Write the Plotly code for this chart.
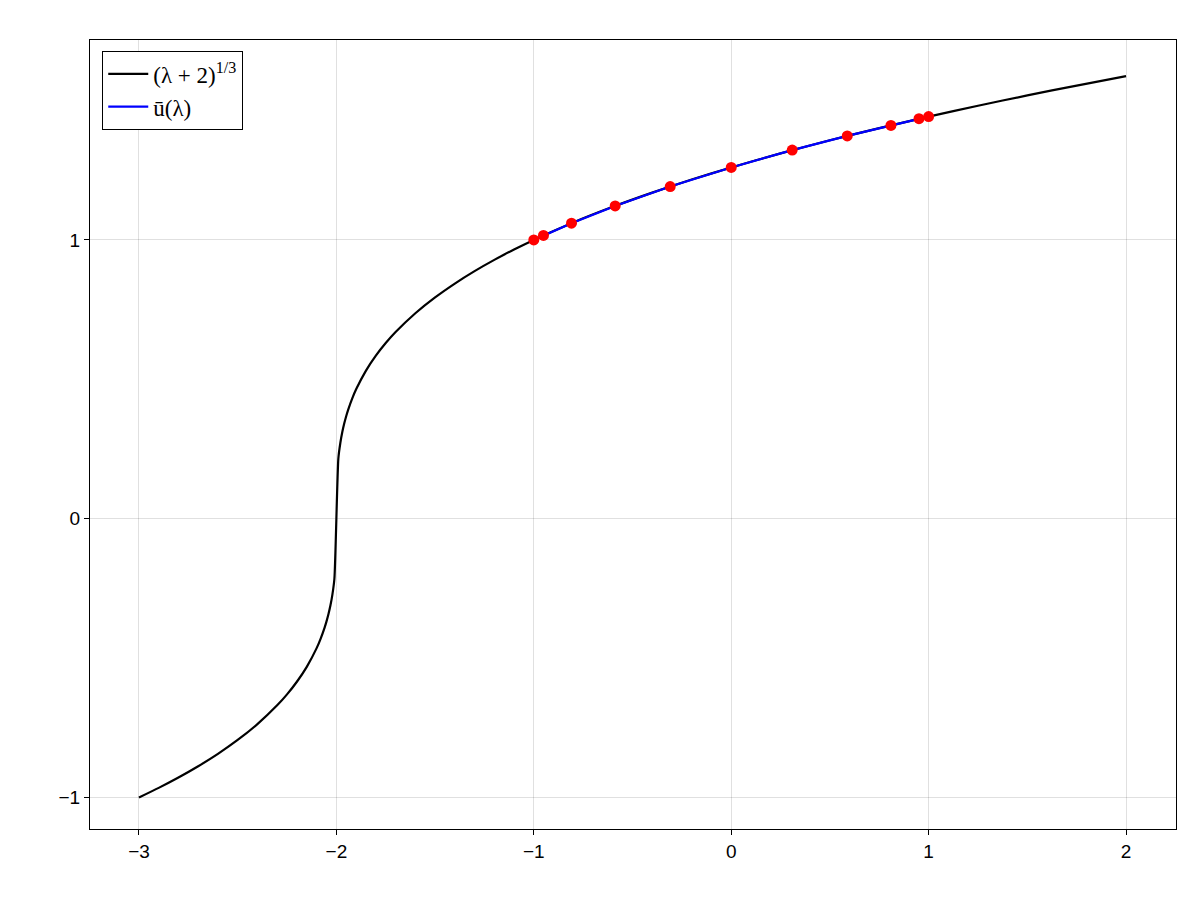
import plotly.graph_objects as go

# black curve samples of (lambda+2)^(1/3)
lam = [-3, -2.9, -2.8, -2.7, -2.6, -2.5, -2.4, -2.3, -2.25, -2.2, -2.15, -2.1, -2.08, -2.06,
       -2.05, -2.04, -2.03, -2.02, -2.01, -1.99, -1.98, -1.97, -1.96, -1.95, -1.94, -1.92,
       -1.9, -1.85, -1.8, -1.75, -1.7, -1.6, -1.5, -1.4, -1.3, -1.2, -1.1, -1.0, -0.8, -0.6,
       -0.4, -0.2, 0, 0.25, 0.5, 0.75, 1, 1.25, 1.5, 1.75, 2]
curve = [-1.0, -0.9655, -0.9283, -0.8879, -0.8434, -0.7937, -0.7368, -0.6694, -0.6300,
         -0.5848, -0.5313, -0.4642, -0.4309, -0.3915, -0.3684, -0.3420, -0.3107, -0.2714,
         -0.2154, 0.2154, 0.2714, 0.3107, 0.3420, 0.3684, 0.3915, 0.4309, 0.4642, 0.5313,
         0.5848, 0.6300, 0.6694, 0.7368, 0.7937, 0.8434, 0.8879, 0.9283, 0.9655, 1.0,
         1.0627, 1.1187, 1.1696, 1.2164, 1.2599, 1.3104, 1.3572, 1.4010, 1.4422, 1.4812,
         1.5183, 1.5536, 1.5874]

# interpolation nodes
nodes_x = [-1, -0.9511, -0.809, -0.5878, -0.309, 0, 0.309, 0.5878, 0.809, 0.9511, 1]
nodes_y = [1.0, 1.0160, 1.0600, 1.1218, 1.1914, 1.2599, 1.3221, 1.3731, 1.4105, 1.4349, 1.4422]

fig = go.Figure()
fig.add_trace(go.Scatter(x=lam, y=curve, mode='lines', name='(λ + 2)<sup>1/3</sup>',
                         line=dict(color='black', width=2.2, shape='spline', smoothing=0.6)))
fig.add_trace(go.Scatter(x=nodes_x, y=nodes_y, mode='lines', name='ū(λ)',
                         line=dict(color='blue', width=2.2)))
fig.add_trace(go.Scatter(x=nodes_x, y=nodes_y, mode='markers', showlegend=False,
                         marker=dict(color='red', size=11)))

axis = dict(showline=True, linecolor='black', linewidth=1.3, mirror=True, showgrid=True,
            gridcolor='rgba(0,0,0,0.12)', zeroline=False, ticks='outside', ticklen=5,
            tickcolor='black', tickfont=dict(size=19, color='black'), automargin=False)
fig.update_xaxes(range=[-3.248, 2.253], tickvals=[-3, -2, -1, 0, 1, 2],
                 ticktext=['−3', '−2', '−1', '0', '1', '2'], **axis)
fig.update_yaxes(range=[-1.113, 1.717], tickvals=[-1, 0, 1],
                 ticktext=['−1', '0', '1'], **axis)
fig.update_layout(
    width=1200, height=900, plot_bgcolor='white', paper_bgcolor='white',
    margin=dict(l=82, r=32, t=32, b=79),
    font=dict(family='Liberation Sans, Arial', color='black'),
    legend=dict(x=0.011, y=0.986, xanchor='left', yanchor='top', bordercolor='black',
                borderwidth=1.3, bgcolor='white', font=dict(size=23, family='Liberation Serif'),
                itemwidth=40, tracegroupgap=12),
)
fig.write_html("out.html")
